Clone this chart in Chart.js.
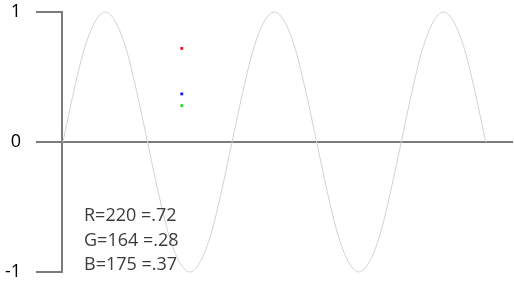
<!DOCTYPE html>
<html>
<head>
<meta charset="utf-8">
<script src="https://cdn.jsdelivr.net/npm/chart.js@4"></script>
<style>
  html, body { margin: 0; padding: 0; background: #fff; }
  #wrap { width: 514px; height: 289px; position: relative; }
</style>
</head>
<body>
<div id="wrap"><canvas id="chart"></canvas></div>
<script>
// wave (x in degrees, 2.5 periods)
const waveX = [0, 22.5, 45, 67.5, 90, 112.5, 135, 157.5, 180, 202.5, 225, 247.5, 270, 292.5, 315, 337.5,
  360, 382.5, 405, 427.5, 450, 472.5, 495, 517.5, 540, 562.5, 585, 607.5, 630, 652.5, 675, 697.5,
  720, 742.5, 765, 787.5, 810, 832.5, 855, 877.5, 900];
const waveY = [0, 0.38, 0.71, 0.92, 1, 0.92, 0.71, 0.38, 0, -0.38, -0.71, -0.92, -1, -0.92, -0.71, -0.38,
  0, 0.38, 0.71, 0.92, 1, 0.92, 0.71, 0.38, 0, -0.38, -0.71, -0.92, -1, -0.92, -0.71, -0.38,
  0, 0.38, 0.71, 0.92, 1, 0.92, 0.71, 0.38, 0];

// the three colour samples
const sampleNames = ["R", "G", "B"];
const sampleRaw = [220, 164, 175];
const sampleValues = [0.72, 0.28, 0.37];
const sampleLabels = ["=.72", "=.28", "=.37"];
const sampleColors = ["#e8141e", "#27d62a", "#1414e6"];
const sampleX = 253;

const yTicks = [1, 0, -1];

const gray = "#7b7b7b";

const legendText = {
  id: "legendText",
  afterDraw(chart) {
    const ctx = chart.ctx;
    ctx.save();
    ctx.font = "18px 'Open Sans'";
    ctx.fillStyle = "#3c3c3c";
    ctx.textBaseline = "middle";
    ctx.textAlign = "left";
    sampleNames.forEach((n, i) => {
      ctx.fillText(`${n}=${sampleRaw[i]} ${sampleLabels[i]}`, 84, 216 + i * 24.5);
    });
    ctx.restore();
  },
};

new Chart(document.getElementById("chart"), {
  type: "line",
  data: {
    datasets: [
      {
        data: waveX.map((x, i) => ({ x, y: waveY[i] })),
        borderColor: "#d2d2d2",
        borderWidth: 1,
        pointRadius: 0,
        cubicInterpolationMode: "monotone",
        fill: false,
        clip: false,
      },
      ...sampleValues.map((v, i) => ({
        data: [{ x: sampleX, y: v }],
        showLine: false,
        pointStyle: "rect",
        pointRadius: 2,
        borderWidth: 0,
        backgroundColor: sampleColors[i],
        borderColor: sampleColors[i],
      })),
    ],
  },
  options: {
    responsive: true,
    maintainAspectRatio: false,
    animation: false,
    layout: { autoPadding: false, padding: { top: 12, bottom: 17, left: 0, right: 1 } },
    plugins: { legend: { display: false }, tooltip: { enabled: false } },
    scales: {
      x: {
        type: "linear",
        min: -2,
        max: 958,
        display: false,
      },
      y: {
        min: -1,
        max: 1,
        afterFit(scale) {
          scale.width = 62;
          scale.paddingTop = 0;
          scale.paddingBottom = 0;
        },
        afterBuildTicks(scale) { scale.ticks = yTicks.map((v) => ({ value: v })); },
        border: { display: true, color: gray, width: 2 },
        grid: {
          color: (c) => (c.tick && c.tick.value === 0 ? gray : "rgba(0,0,0,0)"),
          tickColor: gray,
          lineWidth: 2,
          tickLength: 26,
        },
        ticks: {
          padding: 15,
          color: "#000",
          font: { family: "'Open Sans'", size: 18 },
          callback: (v) => String(v),
        },
      },
    },
  },
  plugins: [legendText],
});
</script>
</body>
</html>
